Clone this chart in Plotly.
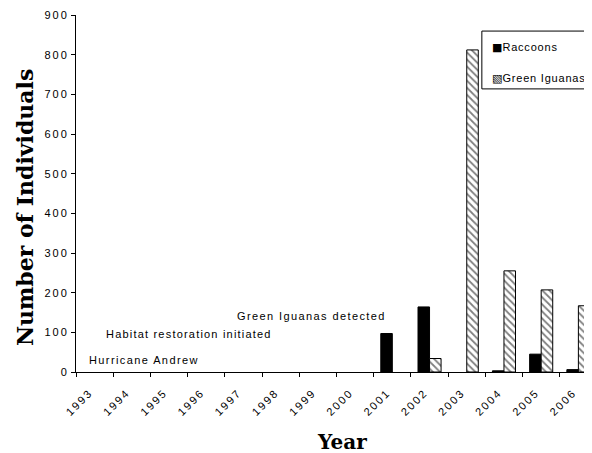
import plotly.graph_objects as go

years = ["1993", "1994", "1995", "1996", "1997", "1998", "1999",
         "2000", "2001", "2002", "2003", "2004", "2005", "2006"]
raccoons = [None, None, None, None, None, None, None,
            None, 97, 164, None, 3, 45, 6]
iguanas = [None, None, None, None, None, None, None,
           None, None, 34, 812, 255, 207, 167]

y_ticks = [0, 100, 200, 300, 400, 500, 600, 700, 800, 900]

series_names = ["Raccoons", "Green Iguanas"]
legend_glyphs = ["\u25A0", "\u25A7"]

events = ["Hurricane Andrew", "Habitat restoration initiated", "Green Iguanas detected"]
event_x = [-0.2, 0.25, 3.77]
event_y = [30, 95, 141]


def spaced(t, px=1.4):
    return '<span style="letter-spacing:%spx">%s</span>' % (px, t)


fig = go.Figure()
fig.add_trace(go.Bar(
    x=years, y=raccoons, name=series_names[0], showlegend=False,
    marker=dict(color="black", line=dict(color="black", width=1)),
))
fig.add_trace(go.Bar(
    x=years, y=iguanas, name=series_names[1], showlegend=False,
    marker=dict(color="white", line=dict(color="black", width=1),
                pattern=dict(shape="\\", fgcolor="black", bgcolor="white",
                             size=5, solidity=0.35)),
))

for t, xx, yy, sp in zip(events, event_x, event_y, [1.4, 1.2, 1.4]):
    fig.add_annotation(x=xx, y=yy, xref="x", yref="y", text=spaced(t, sp), showarrow=False,
                       xanchor="left", yanchor="middle",
                       font=dict(family="Liberation Sans, Arial", size=11, color="black"))

# legend box (layout decoration, clipped by the right edge like the reference)
fig.add_shape(type="rect", xref="paper", yref="paper", x0=0.779, x1=1.05, y0=0.793, y1=0.955,
              line=dict(color="black", width=1), fillcolor="white", layer="above")
for name, glyph, ly in zip(series_names, legend_glyphs, [0.9076, 0.8235]):
    fig.add_annotation(x=0.7945, y=ly, xref="paper", yref="paper", showarrow=False,
                       xanchor="left", yanchor="middle",
                       text='<span style="font-family:DejaVu Sans;font-size:11px">%s</span>%s'
                            % (glyph, spaced(name, 0.8)),
                       font=dict(family="Liberation Sans, Arial", size=11, color="black"))

fig.add_annotation(x=-0.0979, y=0.462, xref="paper", yref="paper", text="Number of Individuals",
                   textangle=-90, showarrow=False, xanchor="center", yanchor="middle",
                   font=dict(family="DejaVu Serif", size=22, color="black", weight="bold"))
fig.add_annotation(x=0.5106, y=-0.1961, xref="paper", yref="paper", text="Year",
                   showarrow=False, xanchor="center", yanchor="middle",
                   font=dict(family="DejaVu Serif", size=20, color="black", weight="bold"))

fig.update_layout(
    width=589, height=453,
    margin=dict(l=68, r=0, t=7, b=89, autoexpand=False),
    paper_bgcolor="white", plot_bgcolor="white",
    barmode="group", bargap=0.38, bargroupgap=0,
    font=dict(family="Liberation Sans, Arial", size=11, color="black"),
    showlegend=False,
    xaxis=dict(
        type="category", range=[-0.5, 13.5], automargin=False,
        tickvals=years, ticktext=[spaced(y, 2) for y in years],
        showline=True, linecolor="black", linewidth=1,
        ticks="outside", tickson="boundaries", ticklen=4, tickcolor="black",
        tickangle=-45, tickfont=dict(size=11),
        ticklabelstandoff=9, ticklabelshift=-5,
        showgrid=False, zeroline=False,
    ),
    yaxis=dict(
        range=[0, 900], automargin=False,
        tickvals=y_ticks, ticktext=[spaced(v, 2) for v in y_ticks],
        showline=True, linecolor="black", linewidth=1,
        ticks="outside", ticklen=4, tickcolor="black",
        showgrid=False, zeroline=False, tickfont=dict(size=11),
    ),
)

fig.write_html("out.html")
